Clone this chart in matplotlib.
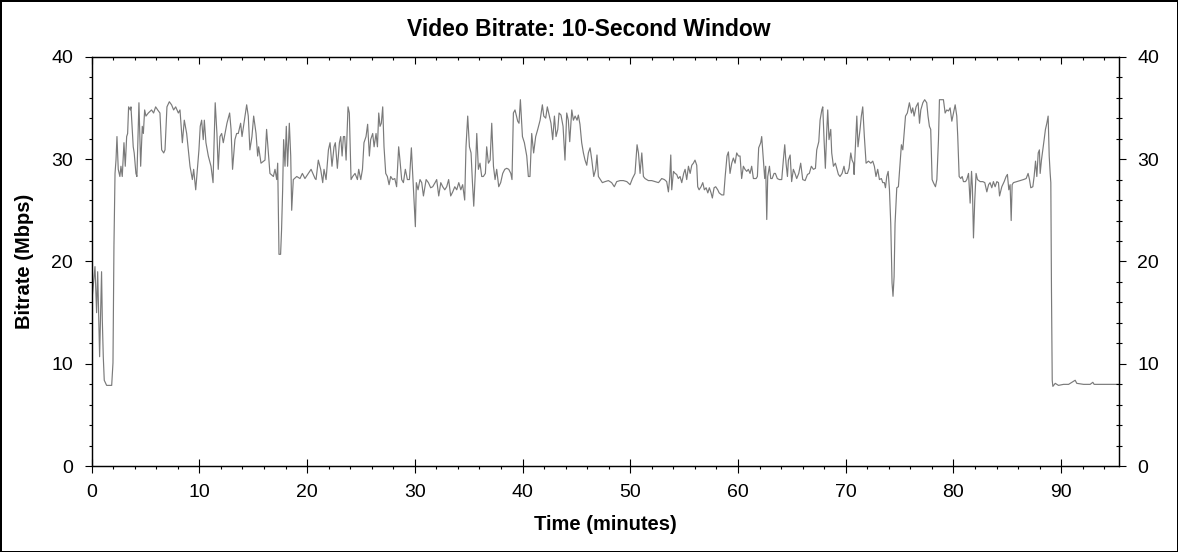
import matplotlib
matplotlib.use("Agg")
import matplotlib.pyplot as plt
from matplotlib.ticker import MultipleLocator

plt.rcParams['font.family'] = ['Liberation Sans', 'DejaVu Sans']

# Bitrate, in pieces (time in minutes, rate in Mbps)
time_intro = [0.0, 0.31, 0.46, 0.56, 0.74, 0.92, 0.99, 1.08, 1.17, 1.39, 1.86, 1.98, 2.07, 2.17, 2.26,
              2.35, 2.47, 2.62, 2.72, 2.84, 3.0, 3.12, 3.25, 3.34, 3.43, 3.59, 3.65, 3.86, 3.95, 4.11,
              4.2, 4.39, 4.55, 4.7, 4.8, 4.92, 5.04, 5.26, 5.56, 5.75, 5.94, 6.13, 6.34, 6.5, 6.69,
              6.81, 6.99, 7.21, 7.42, 7.61, 7.8, 8.05, 8.2, 8.36, 8.42, 8.6, 8.82, 9.13, 9.35, 9.47,
              9.66, 9.84, 9.96, 10.08, 10.21, 10.36, 10.46, 10.61, 10.83, 11.08, 11.27, 11.33, 11.47,
              11.63, 11.75, 11.91, 12.07, 12.22, 12.56, 12.81, 12.94, 13.08, 13.3, 13.46, 13.61, 13.83,
              13.96, 14.14, 14.39, 14.54, 14.69, 14.88, 15.04, 15.26, 15.41, 15.5, 15.72, 16.09, 16.24,
              16.55, 16.87, 17.02, 17.18, 17.27, 17.33, 17.39, 17.54, 17.63, 17.73, 17.82, 17.95, 18.07,
              18.19, 18.35, 18.48, 18.57, 18.72, 19.04, 19.34, 19.56, 19.8, 20.05, 20.37, 20.74]
rate_intro = [15.9, 19.5, 15.0, 19.0, 10.7, 19.0, 14.3, 10.7, 8.4, 7.9, 7.9, 10.1, 21.5, 28.6, 29.9,
              32.2, 29.0, 28.3, 29.3, 28.3, 31.6, 29.3, 32.2, 32.5, 35.1, 34.8, 35.1, 31.2, 30.6, 28.6,
              28.3, 35.5, 29.3, 33.2, 32.5, 34.8, 34.2, 34.5, 34.8, 34.5, 35.1, 34.8, 34.5, 30.9, 30.6,
              30.9, 35.1, 35.6, 35.3, 34.8, 35.1, 34.5, 34.8, 32.5, 31.6, 33.8, 32.5, 29.3, 28.0, 29.0,
              27.0, 29.3, 30.9, 33.2, 33.8, 31.9, 33.8, 31.6, 30.3, 29.3, 27.7, 30.3, 35.5,
              32.5, 29.0, 32.2, 32.5, 31.6, 33.5, 34.5, 32.9, 29.0, 31.9, 32.5, 32.5, 33.5,
              32.2, 33.5, 35.3, 34.2, 30.9, 32.2, 34.2, 32.5, 30.3, 31.2, 29.6, 29.9, 32.9,
              28.6, 28.3, 29.0, 28.0, 29.6, 25.4, 20.7, 20.7, 23.1, 27.0, 31.9, 29.3, 33.2,
              29.3, 33.5, 30.3, 25.0, 28.0, 28.3, 28.1, 28.6, 28.1, 28.5, 29.0, 28.1]

time_mid1 = [20.83, 21.04, 21.26, 21.45, 21.57, 21.76, 21.98, 22.13, 22.31, 22.5, 22.62, 22.81, 23.0,
             23.12, 23.25, 23.37, 23.49, 23.62, 23.8, 23.92, 24.08, 24.23, 24.45, 24.67, 24.79, 24.98,
             25.14, 25.28, 25.47, 25.62, 25.78, 25.9, 26.09, 26.22, 26.4, 26.53, 26.65, 26.77, 26.89,
             27.02, 27.14, 27.3, 27.45, 27.61, 27.76, 27.95, 28.14, 28.31, 28.5, 28.62, 28.78, 28.94,
             29.12, 29.31, 29.5, 29.68, 29.86, 29.99, 30.05, 30.14, 30.3, 30.48, 30.64, 30.8, 31.05,
             31.26, 31.47, 31.66, 31.88, 32.03, 32.22, 32.41, 32.59, 32.78, 32.96, 33.14, 33.33, 33.52,
             33.71, 33.89, 34.08, 34.27, 34.44, 34.63, 34.75, 34.91, 35.07, 35.22, 35.35, 35.47, 35.63,
             35.75, 35.9, 36.05, 36.21, 36.36, 36.55, 36.67, 36.83, 36.99, 37.14, 37.3, 37.45, 37.6,
             37.79, 37.97, 38.16, 38.35, 38.53, 38.72, 38.91, 39.02, 39.15]
rate_mid1 = [28.0, 29.9, 29.0, 27.7, 29.0, 28.0, 30.9, 31.6, 29.3, 31.2, 31.6, 29.1, 31.6,
             32.2, 30.3, 32.2, 32.2, 29.9, 35.1, 34.5, 28.0, 28.3, 28.6, 28.0, 29.0, 28.0,
             29.0, 31.6, 32.2, 33.4, 30.3, 31.9, 32.5, 31.2, 32.5, 31.2, 34.5, 33.2, 33.5,
             35.1, 31.2, 28.6, 28.3, 27.5, 28.3, 28.0, 28.1, 27.3, 31.2, 29.9, 28.0, 27.7,
             29.0, 28.0, 28.0, 31.1, 27.3, 24.4, 23.4, 27.7, 27.0, 28.0, 27.7, 26.4, 28.0,
             27.7, 27.2, 27.3, 27.7, 28.0, 26.4, 27.7, 27.3, 27.0, 27.3, 28.0, 26.4, 26.8,
             27.3, 27.0, 27.7, 27.0, 27.5, 26.0, 31.2, 34.2, 31.2, 30.6, 27.7, 25.4, 29.0,
             32.5, 29.0, 29.6, 28.3, 28.3, 28.6, 31.2, 29.6, 29.9, 33.5, 29.3, 28.0, 29.0,
             27.3, 27.7, 28.6, 29.0, 29.1, 29.0, 28.6, 28.0, 34.5]

time_mid2 = [39.3, 39.55, 39.67, 39.8, 39.99, 40.17, 40.39, 40.54, 40.69, 40.85, 41.03, 41.22, 41.41,
             41.63, 41.84, 41.97, 42.15, 42.3, 42.49, 42.64, 42.8, 42.96, 43.11, 43.27, 43.39, 43.57,
             43.76, 43.94, 44.1, 44.25, 44.38, 44.57, 44.72, 44.88, 45.06, 45.18, 45.33, 45.49, 45.65,
             45.8, 45.96, 46.11, 46.27, 46.43, 46.61, 46.79, 46.91, 47.04, 47.22, 47.41, 47.66, 47.97,
             48.27, 48.52, 48.74, 49.05, 49.36, 49.68, 49.98, 50.2, 50.44, 50.63, 50.76, 50.91, 51.07,
             51.22, 51.37, 51.68, 51.99, 52.3, 52.62, 52.92, 53.17, 53.38, 53.54, 53.67, 53.76, 53.85,
             54.01, 54.16, 54.31, 54.46, 54.62, 54.78, 54.96, 55.09, 55.24, 55.4, 55.56, 55.71, 55.86,
             56.01, 56.17, 56.26, 56.39, 56.57, 56.73, 56.88, 57.04, 57.2, 57.34, 57.5, 57.62, 57.78,
             57.93, 58.12, 58.25, 58.49, 58.68, 58.81, 58.98, 59.11]
rate_mid2 = [34.8, 33.7, 33.5, 35.8, 32.2, 31.6, 30.3, 28.3, 28.3, 32.5, 30.6, 32.2, 32.9,
             33.8, 35.3, 34.2, 34.0, 35.1, 34.2, 33.5, 31.9, 34.2, 32.2, 32.9, 34.5, 34.3,
             33.2, 29.9, 34.5, 33.8, 31.7, 34.8, 33.8, 34.2, 33.8, 34.3, 33.4, 31.6, 30.6,
             29.9, 29.4, 30.6, 31.1, 29.9, 28.3, 29.0, 30.4, 28.3, 28.0, 27.7, 27.8, 27.9,
             27.7, 27.3, 27.8, 27.9, 27.9, 27.8, 27.5, 28.1, 28.6, 31.4, 30.6, 28.6, 30.6,
             28.3, 28.1, 27.9, 27.9, 27.8, 27.7, 28.1, 28.0, 27.8, 26.8, 28.3, 30.4, 27.0,
             28.8, 28.6, 28.5, 28.1, 28.3, 27.7, 28.6, 29.0, 28.0, 29.3, 28.6, 29.4, 29.6,
             29.9, 29.4, 27.3, 27.0, 27.3, 27.7, 27.0, 27.2, 26.7, 27.2, 26.7, 26.2, 27.2,
             27.3, 27.0, 26.7, 26.5, 26.5, 28.3, 30.3, 30.7]

time_mid3 = [59.26, 59.42, 59.57, 59.73, 59.88, 60.04, 60.19, 60.34, 60.5, 60.65, 60.81, 60.96, 61.12,
             61.27, 61.43, 61.68, 61.8, 61.92, 62.11, 62.2, 62.36, 62.48, 62.57, 62.67, 62.76, 62.92,
             63.04, 63.17, 63.35, 63.47, 63.65, 63.84, 64.06, 64.21, 64.34, 64.46, 64.59, 64.68, 64.84,
             64.98, 65.14, 65.29, 65.45, 65.64, 65.82, 66.01, 66.23, 66.45, 66.62, 66.81, 67.0, 67.19,
             67.31, 67.5, 67.62, 67.78, 67.87, 67.99, 68.11, 68.23, 68.33, 68.45, 68.61, 68.7, 68.86,
             69.04, 69.17, 69.32, 69.47, 69.66, 69.84, 69.97, 70.16, 70.31, 70.47, 70.59, 70.72, 70.78,
             70.9, 71.03, 71.14, 71.33, 71.45, 71.58, 71.73, 71.89, 72.11, 72.33, 72.51, 72.66, 72.81,
             72.97, 73.13, 73.31, 73.44, 73.59, 73.69, 73.81, 73.94, 74.06, 74.18, 74.3, 74.39, 74.49,
             74.58, 74.74, 74.89, 75.05, 75.17, 75.3, 75.42, 75.55, 75.72, 75.91, 76.1, 76.22, 76.35,
             76.53, 76.72, 76.85, 76.97, 77.16, 77.33, 77.52, 77.64, 77.77, 77.89, 78.02, 78.14, 78.33,
             78.46, 78.61, 78.7, 78.88, 79.07]
rate_mid3 = [28.6, 29.6, 30.1, 29.6, 30.6, 30.3, 30.3, 28.1, 29.3, 29.0, 28.8, 29.0, 28.6,
             29.3, 28.1, 28.1, 28.3, 31.1, 31.6, 32.2, 29.9, 28.1, 29.3, 24.1, 28.3, 29.3,
             28.1, 28.1, 28.6, 28.6, 28.1, 28.0, 28.0, 29.9, 31.4, 29.6, 28.3, 29.9, 30.4,
             27.8, 29.0, 28.6, 28.1, 28.6, 29.6, 28.0, 27.9, 28.5, 28.6, 29.3, 29.0, 29.1,
             30.9, 31.7, 33.8, 34.8, 35.1, 31.9, 29.1, 32.5, 34.8, 31.9, 32.9, 30.6, 29.3,
             29.6, 29.1, 28.5, 28.3, 28.6, 29.3, 28.6, 28.6, 29.1, 30.6, 29.9, 29.6, 28.5,
             31.2, 34.2, 31.2, 32.9, 34.2, 35.1, 32.2, 29.6, 29.8, 29.6, 29.8, 29.3, 28.3,
             29.0, 28.0, 28.1, 27.7, 27.7, 27.2, 28.3, 28.8, 27.0, 23.7, 17.9, 16.6, 18.5,
             23.7, 27.2, 27.3, 29.6, 31.4, 30.9, 32.5, 34.2, 34.5, 35.5, 34.5, 35.0, 34.2,
             35.1, 35.5, 33.5, 34.8, 35.5, 35.8, 35.5, 34.2, 33.2, 32.9, 28.0, 27.7, 27.3,
             28.0, 31.9, 35.8, 35.8, 35.8]

time_outro = [79.23, 79.38, 79.54, 79.69, 79.85, 80.0, 80.16, 80.31, 80.4, 80.53, 80.68, 80.81, 80.93,
              81.12, 81.24, 81.4, 81.55, 81.68, 81.76, 81.86, 81.98, 82.1, 82.23, 82.48, 82.73, 82.91,
              83.1, 83.26, 83.4, 83.56, 83.71, 83.87, 84.03, 84.18, 84.28, 84.49, 84.71, 84.89, 85.01,
              85.14, 85.26, 85.36, 85.45, 85.57, 85.89, 86.2, 86.5, 86.75, 86.93, 87.06, 87.18, 87.37,
              87.49, 87.62, 87.74, 87.87, 87.98, 88.05, 88.17, 88.3, 88.42, 88.54, 88.67, 88.79, 88.89,
              88.98, 89.04, 89.1, 89.17, 89.23, 89.45, 89.75, 90.22, 90.69, 91.14, 91.3, 91.45, 92.08,
              92.69, 92.94, 93.06, 93.62, 94.24, 94.86, 95.4]
rate_outro = [34.5, 34.8, 34.7, 35.0, 33.7, 34.5, 35.3, 34.2, 32.2, 28.3, 28.1, 28.3, 27.8,
              27.8, 28.0, 28.6, 25.7, 28.8, 27.3, 22.3, 26.0, 28.6, 28.0, 27.8, 27.8, 27.7,
              26.8, 27.5, 27.7, 27.2, 27.8, 27.3, 27.8, 27.7, 26.4, 27.3, 27.8, 28.3, 28.5,
              27.0, 27.5, 24.0, 27.5, 27.7, 27.8, 27.9, 28.0, 28.1, 28.6, 28.0, 27.2, 27.3,
              28.3, 29.8, 28.3, 30.6, 30.9, 28.6, 29.9, 30.9, 31.9, 32.9, 33.5, 34.2, 30.3,
              28.6, 27.7, 17.2, 8.4, 7.8, 8.1, 7.9, 8.0, 8.0, 8.3, 8.4, 8.1, 8.0,
              8.0, 8.2, 8.0, 8.0, 8.0, 8.0, 8.0]

times = time_intro + time_mid1 + time_mid2 + time_mid3 + time_outro
rates = rate_intro + rate_mid1 + rate_mid2 + rate_mid3 + rate_outro

fig = plt.figure(figsize=(11.78, 5.52), dpi=100)
fig.patch.set_edgecolor('black')
fig.patch.set_linewidth(2)
ax = fig.add_axes([0.0778, 0.1553, 0.8724, 0.742])

ax.plot(times, rates, color='#7a7a7a', linewidth=0.85)

ax.set_xlim(0, 95.4)
ax.set_ylim(0, 40)
ax.xaxis.set_major_locator(MultipleLocator(10))
ax.xaxis.set_minor_locator(MultipleLocator(2))
ax.yaxis.set_major_locator(MultipleLocator(10))
ax.yaxis.set_minor_locator(MultipleLocator(2))

for s in ax.spines.values():
    s.set_linewidth(0.9)

# left / bottom ticks
ax.tick_params(axis='y', which='major', direction='out', length=5, width=0.8, pad=8.5, labelsize=14)
ax.tick_params(axis='y', which='minor', direction='out', length=2.5, width=0.8)
ax.tick_params(axis='x', which='major', direction='inout', length=10, width=0.8, pad=7.5, labelsize=14)
ax.tick_params(axis='x', which='minor', direction='out', length=2.5, width=0.8)

# right side ticks + labels
axr = ax.twinx()
axr.set_ylim(0, 40)
axr.yaxis.set_major_locator(MultipleLocator(10))
axr.yaxis.set_minor_locator(MultipleLocator(2))
axr.tick_params(axis='y', which='major', direction='out', length=5, width=0.8, pad=8, labelsize=14)
axr.tick_params(axis='y', which='minor', direction='inout', length=5, width=0.8)

# top ticks, no labels
axt = ax.twiny()
axt.set_xlim(0, 95.4)
axt.xaxis.set_major_locator(MultipleLocator(10))
axt.xaxis.set_minor_locator(MultipleLocator(2))
axt.tick_params(axis='x', which='major', direction='in', length=5, width=0.8, labeltop=False)
axt.tick_params(axis='x', which='minor', direction='in', length=2.5, width=0.8)

ax.set_xlabel('Time (minutes)', fontsize=14.5, fontweight='bold', labelpad=10)
ax.set_ylabel('Bitrate (Mbps)', fontsize=14.5, fontweight='bold', labelpad=12)
fig.suptitle('Video Bitrate: 10-Second Window', fontsize=16.5, fontweight='bold', y=0.968)

fig.savefig('out.png', dpi=100)
